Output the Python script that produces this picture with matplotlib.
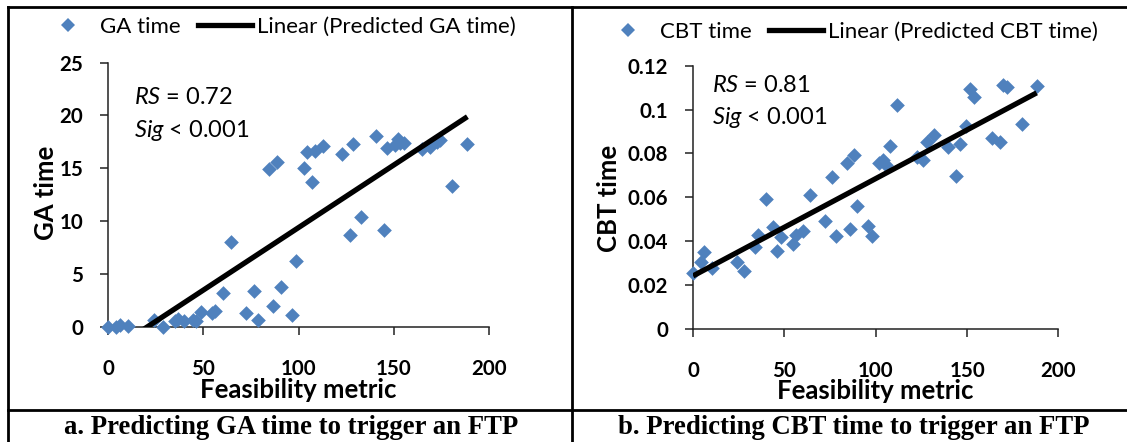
import numpy as np
import matplotlib
matplotlib.use('Agg')
import matplotlib.pyplot as plt
from matplotlib.lines import Line2D

plt.rcParams['font.family'] = ['Lato', 'DejaVu Sans']
plt.rcParams['mathtext.fontset'] = 'custom'
plt.rcParams['mathtext.it'] = 'Lato:italic'
plt.rcParams['mathtext.rm'] = 'Lato'

# GA panel data (feasibility metric vs GA time)
ga_x = [0, 4, 6.4, 10.3, 24, 28.5, 35, 36.4, 40, 44.4, 46.3, 48.5, 54.7, 56.2,
        60.4, 64.5, 72.2, 76.3, 78.5, 84.5, 86.4, 88.5, 90.7, 96.5, 98.4, 102.5,
        104.4, 106.7, 108.5, 112.8, 122.6, 126.7, 128.6, 132.5, 140.6, 144.7,
        146.4, 150.5, 152.3, 153.2, 155, 164.6, 169, 172.4, 174.2, 180.5, 188.5]
ga_y = [0, 0, 0.15, 0.05, 0.6, 0, 0.5, 0.7, 0.5, 0.6, 0.5, 1.4, 1.3, 1.5,
        3.2, 8.0, 1.3, 3.4, 0.6, 14.9, 2.0, 15.6, 3.8, 1.1, 6.2, 15.0,
        16.5, 13.7, 16.6, 17.1, 16.4, 8.7, 17.3, 10.4, 18.1, 9.2,
        16.9, 17.2, 17.8, 17.4, 17.4, 16.8, 17.0, 17.5, 17.7, 13.3, 17.3]
ga_slope, ga_icpt = 0.1185, -2.45

# CBT panel data (feasibility metric vs CBT time)
cbt_x = [0, 4.4, 5.9, 10.3, 24.2, 28.1, 34, 35.6, 40, 44, 46, 48.3, 54.5, 56.2,
         60.2, 63.8, 72.3, 76, 78, 84.5, 86.1, 88.1, 90, 96, 97.8, 101.6, 104.1,
         105.6, 107.8, 111.7, 122.6, 126.1, 127.8, 132, 139.8, 143.9, 146.1,
         149.6, 151.7, 153.9, 163.6, 168, 169.8, 172.1, 179.9, 188.1]
cbt_y = [0.0252, 0.0303, 0.0348, 0.0275, 0.0303, 0.0265, 0.0374, 0.0427, 0.0593,
         0.0462, 0.0356, 0.042, 0.0385, 0.0427, 0.0447, 0.0611, 0.0493, 0.0692,
         0.0423, 0.0756, 0.0457, 0.0792, 0.0561, 0.0467, 0.0425, 0.0756, 0.0768,
         0.0747, 0.0834, 0.102, 0.0785, 0.077, 0.0851, 0.0884, 0.0829, 0.0696,
         0.0843, 0.0927, 0.1095, 0.1056, 0.0872, 0.0853, 0.1112, 0.1101, 0.0936,
         0.1108]
cbt_slope, cbt_icpt = 0.000444, 0.0241

x_ticks = [0, 50, 100, 150, 200]
ga_ticks = [0, 5, 10, 15, 20, 25]
cbt_ticks = [0, 0.02, 0.04, 0.06, 0.08, 0.1, 0.12]
cbt_tick_labels = ['0', '0.02', '0.04', '0.06', '0.08', '0.1', '0.12']

W, H = 1127, 442
BLUE = '#4F81BD'
fig = plt.figure(figsize=(W / 100, H / 100), dpi=100)


def fx(p):
    return p / W


def fy(p):
    return 1 - p / H


def panel(rect, xs, ys, slope, icpt, ymax, yticks, ylabels, name,
          rs, leg_xy, ylab_xy, xlab_xy, ann_xy):
    left, top, right, bottom = rect
    ax = fig.add_axes([fx(left), fy(bottom), fx(right - left), (bottom - top) / H])
    ax.scatter(xs, ys, marker='D', s=56, color=BLUE, linewidths=0,
               clip_on=False, zorder=3)
    lx = np.array([0, max(xs)])
    ax.plot(lx, slope * lx + icpt, color='black', lw=3.8, zorder=4,
            solid_capstyle='butt')
    ax.set_xlim(0, 200)
    ax.set_ylim(0, ymax)
    ax.set_xticks(x_ticks)
    ax.set_xticklabels([str(t) for t in x_ticks])
    ax.set_yticks(yticks)
    ax.set_yticklabels(ylabels)
    for s in ['top', 'right']:
        ax.spines[s].set_visible(False)
    for s in ['left', 'bottom']:
        ax.spines[s].set_linewidth(1.1)
        ax.spines[s].set_color('#222222')
    ax.tick_params(axis='both', length=6, width=1.1, color='#222222',
                   labelsize=14.8)
    ax.tick_params(axis='x', pad=17)
    ax.tick_params(axis='y', pad=12)
    for lab in ax.get_xticklabels() + ax.get_yticklabels():
        lab.set_fontweight('bold')
    ax.set_xlabel('Feasibility metric', fontsize=18.5, fontweight='bold')
    ax.set_ylabel(name, fontsize=18.5, fontweight='bold')
    ax.xaxis.set_label_coords(*xlab_xy)
    ax.xaxis.label.set_va('center')
    ax.yaxis.set_label_coords(*ylab_xy)
    ax.yaxis.label.set_va('center')
    ax.text(ann_xy[0], ann_xy[1], r'$\mathit{RS}$ = ' + rs, transform=fig.transFigure,
            fontsize=17, va='center', ha='left')
    ax.text(ann_xy[0], ann_xy[2], r'$\mathit{Sig}$ < 0.001', transform=fig.transFigure,
            fontsize=17, va='center', ha='left')

    handles = [Line2D([], [], marker='D', ls='none', color=BLUE, ms=7.4, mew=0),
               Line2D([], [], color='black', lw=3.8)]
    fig.legend(handles, [name, 'Linear (Predicted %s)' % name], ncol=2,
               loc='center left', bbox_to_anchor=leg_xy, frameon=False,
               fontsize=16, handlelength=2.43, handletextpad=0.22,
               columnspacing=0.77, borderpad=0, borderaxespad=0)
    return ax


panel((108.2, 62.7, 489.3, 326.7), ga_x, ga_y, ga_slope, ga_icpt, 25,
      ga_ticks, [str(t) for t in ga_ticks], 'GA time', '0.72',
      (fx(41), fy(27)), (-0.163, 0.506), (0.50, -0.24),
      (fx(134), fy(97), fy(130)))
panel((693.1, 65.7, 1058.4, 328.7), cbt_x, cbt_y, cbt_slope, cbt_icpt, 0.12,
      cbt_ticks, cbt_tick_labels, 'CBT time', '0.81',
      (fx(601), fy(32)), (-0.230, 0.497), (0.498, -0.238),
      (fx(712), fy(85), fy(117)))

# table frame around the two panels
for xa, ya, xb, yb in [(8, 7, W, 7), (8, 7, 8, H), (572, 7, 572, H), (8, 410, W, 410)]:
    fig.add_artist(Line2D([fx(xa), fx(xb)], [fy(ya), fy(yb)], color='black', lw=2,
                          transform=fig.transFigure))

cap_font = dict(family=['Liberation Serif', 'DejaVu Serif'], fontsize=19.3,
                fontweight='bold', ha='center', va='center')
fig.text(fx(291), fy(427), 'a. Predicting GA time to trigger an FTP', **cap_font)
fig.text(fx(854), fy(427), 'b. Predicting CBT time to trigger an FTP', **cap_font)

fig.savefig('out.png', dpi=100)
